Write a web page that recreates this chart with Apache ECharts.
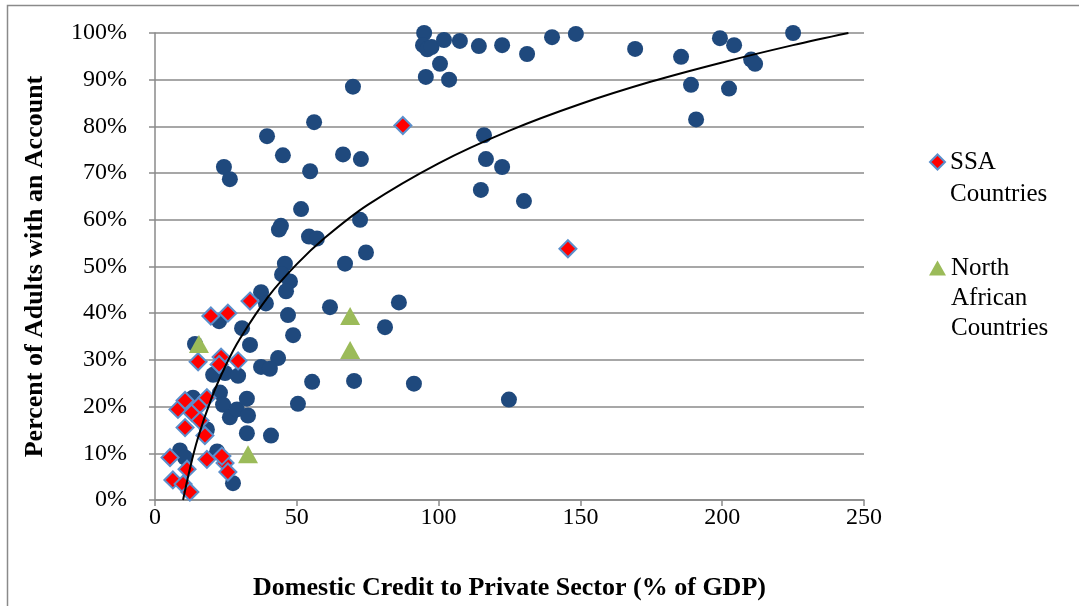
<!DOCTYPE html>
<html>
<head>
<meta charset="utf-8">
<script src="https://cdn.jsdelivr.net/npm/echarts@6/dist/echarts.min.js"></script>
<style>
html,body{margin:0;padding:0;background:#fff;}
#c{width:1079px;height:606px;}
</style>
</head>
<body>
<div id="c"></div>
<script>
// Other countries: [domestic credit % GDP, % adults with account]
var otherCountries = [
  [94.9,100],[94.5,97.4],[96.0,96.5],[97.5,97.0],[101.9,98.5],[107.5,98.3],[114.2,97.2],[122.4,97.4],
  [131.2,95.5],[140.0,99.1],[148.4,99.8],[100.5,93.4],[95.5,90.6],[103.7,90.0],
  [169.3,96.6],[185.5,94.9],[199.2,98.9],[204.2,97.4],[210.2,94.3],[211.6,93.4],[225.0,100],
  [189.0,88.9],[202.4,88.1],[190.8,81.5],
  [116.0,78.1],[116.7,73.0],[122.4,71.3],[114.9,66.4],[130.1,64.0],[86.0,42.3],[81.1,37.0],
  [91.3,24.9],[124.8,21.5],[69.8,88.5],
  [56.1,80.9],[39.5,77.9],[45.1,73.8],[66.3,74.0],[72.6,73.0],[54.7,70.4],[51.5,62.3],[72.3,60.0],
  [44.4,58.7],[43.7,57.9],[54.3,56.4],[57.1,56.0],[74.4,53.0],[67.0,50.6],[45.8,50.6],[44.8,48.3],
  [47.6,46.8],[46.2,44.7],[37.4,44.5],[39.1,42.1],[61.7,41.3],[46.9,39.6],[48.7,35.3],[43.4,30.4],
  [37.4,28.5],[40.5,28.1],[55.4,25.3],[70.2,25.5],[33.5,33.2],[50.4,20.6],[24.3,71.3],[26.4,68.7],
  [22.6,38.3],[30.7,36.8],[14.1,33.4],[20.5,26.8],[24.7,27.2],[29.3,26.6],[13.4,21.9],[18.3,15.1],
  [8.8,10.6],[10.6,9.1],[21.9,10.4],[27.5,3.6],[22.9,23.0],[24.0,20.4],[26.4,17.7],[28.9,19.4],
  [32.4,21.7],[32.8,18.1],[32.4,14.3],[40.9,13.8]
];
var ssaCountries = [
  [87.4,80.2],[145.6,53.8],[33.5,42.6],[19.7,39.4],[25.7,40.0],[15.2,29.6],[23.3,30.6],[22.6,29.0],
  [29.3,29.8],[8.1,19.4],[10.6,21.3],[13.0,18.7],[15.9,20.4],[18.3,21.9],[10.6,15.5],[15.9,17.0],
  [17.6,13.8],[5.3,9.1],[18.3,8.7],[24.7,7.9],[25.7,6.0],[11.3,6.6],[6.3,4.3],[9.9,3.4],[12.3,1.7],
  [23.6,9.4]
];
var northAfricanCountries = [
  [15.5,33.4],[68.8,39.4],[68.8,32.1],[32.8,9.8]
];
// Trend line points
var trendX = [9.9,12,15,20,25,30,40,50,60,75,100,125,150,175,200,225,244.5];
var trendY = [0,5.9,13,21.9,28.9,34.6,43.6,50.5,56.2,63.2,72.1,79.1,84.8,89.6,93.7,97.4,100];
var xTicks = [0,50,100,150,200,250];
var yTickStep = 10;

var trendData = trendX.map(function(x,i){return [x,trendY[i]];});
var serif = '"Liberation Serif","Times New Roman",serif';

var chart = echarts.init(document.getElementById('c'));
chart.setOption({
  animation: false,
  backgroundColor: '#fff',
  graphic: [{
    type: 'rect', left: 5, top: 3, silent: true,
    shape: {x: 0, y: 0, width: 1090, height: 620},
    style: {fill: 'none', stroke: '#8a8a8a', lineWidth: 1.5}
  }],
  grid: {left: 155, right: 215, top: 33, bottom: 103, containLabel: false},
  xAxis: {
    type: 'value', min: xTicks[0], max: xTicks[xTicks.length-1], interval: xTicks[1]-xTicks[0],
    name: 'Domestic Credit to Private Sector (% of GDP)', nameLocation: 'middle', nameGap: 75,
    nameTextStyle: {fontFamily: serif, fontSize: 26, fontWeight: 'bold', color: '#000'},
    axisLine: {show: true, lineStyle: {color: '#8a8a8a', width: 1.5}},
    axisTick: {show: true, inside: false, length: 6, lineStyle: {color: '#8a8a8a', width: 1.5}},
    axisLabel: {fontFamily: serif, fontSize: 24, color: '#000', margin: 6},
    splitLine: {show: false}
  },
  yAxis: {
    type: 'value', min: 0, max: 100, interval: yTickStep,
    name: 'Percent of Adults with an Account', nameLocation: 'middle', nameGap: 107,
    nameTextStyle: {fontFamily: serif, fontSize: 26, fontWeight: 'bold', color: '#000'},
    axisLine: {show: true, lineStyle: {color: '#8a8a8a', width: 1.5}},
    axisTick: {show: true, inside: false, length: 6, lineStyle: {color: '#8a8a8a', width: 1.5}},
    axisLabel: {fontFamily: serif, fontSize: 24, color: '#000', margin: 28, formatter: '{value}%'},
    splitLine: {show: true, lineStyle: {color: '#8a8a8a', width: 1.5}}
  },
  legend: [{
    data: ['SSA Countries'], orient: 'vertical', left: 929, top: 114,
    itemWidth: 15, itemHeight: 15, itemGap: 0, padding: 0,
    formatter: function(){ return '\nSSA\nCountries'; },
    textStyle: {fontFamily: serif, fontSize: 25, color: '#000', lineHeight: 32},
    selectedMode: false
  },{
    data: ['North African Countries'], orient: 'vertical', left: 929, top: 193,
    itemWidth: 17, itemHeight: 15, itemGap: 0, padding: 0,
    formatter: function(){ return '\n\nNorth\nAfrican\nCountries'; },
    textStyle: {fontFamily: serif, fontSize: 25, color: '#000', lineHeight: 30},
    selectedMode: false
  }],
  series: [{
    name: 'Other Countries', type: 'scatter', data: otherCountries,
    symbol: 'circle', symbolSize: 16,
    itemStyle: {color: '#1F497D', opacity: 1}, z: 2
  },{
    name: 'SSA Countries', type: 'scatter', data: ssaCountries,
    symbol: 'diamond', symbolSize: 17,
    itemStyle: {color: '#FF0000', borderColor: '#5B8FCC', borderWidth: 2, opacity: 1}, z: 3
  },{
    name: 'North African Countries', type: 'scatter', data: northAfricanCountries,
    symbol: 'triangle', symbolSize: [20, 18],
    itemStyle: {color: '#9BBB59', opacity: 1}, z: 4
  },{
    name: 'Trend', type: 'line', data: trendData, smooth: 0.35,
    symbol: 'none', lineStyle: {color: '#000', width: 2}, z: 5, silent: true
  }]
});
</script>
</body>
</html>
